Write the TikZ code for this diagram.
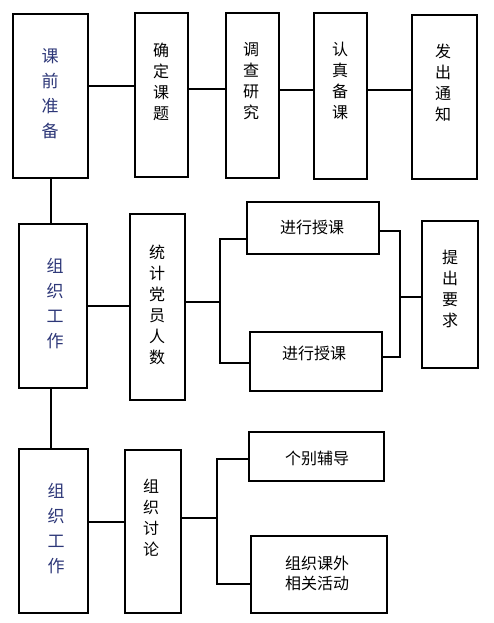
\documentclass[tikz,border=0pt]{standalone}
\usepackage{fontspec}
\newfontfamily\cjk{Noto Sans CJK SC}
\definecolor{leftink}{RGB}{45,55,120}
\begin{document}
\begin{tikzpicture}[x=1pt,y=-1pt,
  box/.style={draw,line width=1.1pt,inner sep=0pt},
  txt/.style={inner sep=0pt,align=center,font=\cjk\fontsize{16}{21}\selectfont},
  bigtxt/.style={inner sep=0pt,align=center,text=leftink,font=\cjk\fontsize{17}{25}\selectfont},
  conn/.style={line width=1.1pt}]
\useasboundingbox[fill=white] (0,0) rectangle (493,623);
% boxes
\node[box,minimum width=75pt,minimum height=164pt] (A) at (50.5,96) {};
\node[box,minimum width=53pt,minimum height=164pt] (D1) at (161.5,95) {};
\node[box,minimum width=53pt,minimum height=165pt] (D2) at (252.5,95.5) {};
\node[box,minimum width=53pt,minimum height=166pt] (D3) at (340.5,96) {};
\node[box,minimum width=65pt,minimum height=164pt] (D4) at (444.5,97) {};
\node[box,minimum width=68pt,minimum height=164pt] (B) at (53,306) {};
\node[box,minimum width=55pt,minimum height=186pt] (E) at (157.5,307) {};
\node[box,minimum width=132pt,minimum height=52pt] (F1) at (313,228) {};
\node[box,minimum width=132pt,minimum height=59pt] (F2) at (316,361.5) {};
\node[box,minimum width=56pt,minimum height=147pt] (G) at (450,294.5) {};
\node[box,minimum width=69pt,minimum height=164pt] (C) at (53.5,531) {};
\node[box,minimum width=56pt,minimum height=163pt] (H) at (153,531.5) {};
\node[box,minimum width=135pt,minimum height=49pt] (I1) at (316.5,456.5) {};
\node[box,minimum width=136pt,minimum height=77pt] (I2) at (319,574.5) {};
% texts
\node[bigtxt] (tA) at (50,94) {课\\前\\准\\备};
\node[txt] (tD1) at (161,82) {确\\定\\课\\题};
\node[txt] (tD2) at (251,81) {调\\查\\研\\究};
\node[txt] (tD3) at (340,81) {认\\真\\备\\课};
\node[txt] (tD4) at (443,83) {发\\出\\通\\知};
\node[bigtxt] (tB) at (55,303.5) {组\\织\\工\\作};
\node[txt] (tE) at (157,304.5) {统\\计\\党\\员\\人\\数};
\node[txt] (tF1) at (312,227) {进行授课};
\node[txt] (tF2) at (314,353) {进行授课};
\node[txt] (tG) at (450,289) {提\\出\\要\\求};
\node[bigtxt] (tC) at (56,529) {组\\织\\工\\作};
\node[txt] (tH) at (151,518) {组\\织\\讨\\论};
\node[txt] (tI1) at (317,458) {个别辅导};
\node[txt,font=\cjk\fontsize{16}{20}\selectfont] (tI2) at (317,573) {组织课外\\相关活动};
% junctions
\coordinate (j1) at (220,302);
\coordinate (j2) at (400,297);
\coordinate (j3) at (217,518);
% top row
\draw[conn] ([yshift=10pt]A.east) -- ([yshift=10pt]A.east -| D1.west);
\draw[conn] ([yshift=6pt]D1.east) -- ([yshift=6pt]D1.east -| D2.west);
\draw[conn] ([yshift=5.5pt]D2.east) -- ([yshift=5.5pt]D2.east -| D3.west);
\draw[conn] ([yshift=6pt]D3.east) -- ([yshift=6pt]D3.east -| D4.west);
% vertical spine
\draw[conn] ([xshift=0.5pt]A.south) -- ([xshift=0.5pt]A.south |- B.north);
\draw[conn] ([xshift=-2pt]B.south) -- ([xshift=-2pt]B.south |- C.north);
% middle row
\draw[conn] (B.east) -- (B.east -| E.west);
\draw[conn] ([yshift=5pt]E.east) -- (j1);
\draw[conn] ([yshift=-11pt]F1.west) -| (j1) |- ([yshift=-1.5pt]F2.west);
\draw[conn] ([yshift=-3pt]F1.east) -| (j2) |- ([yshift=4.5pt]F2.east);
\draw[conn] (j2) -- (j2 -| G.west);
% bottom row
\draw[conn] ([yshift=9pt]C.east) -- ([yshift=9pt]C.east -| H.west);
\draw[conn] ([yshift=13.5pt]H.east) -- (j3);
\draw[conn] ([yshift=-2.5pt]I1.west) -| (j3) |- ([yshift=-9.5pt]I2.west);
\end{tikzpicture}
\end{document}
